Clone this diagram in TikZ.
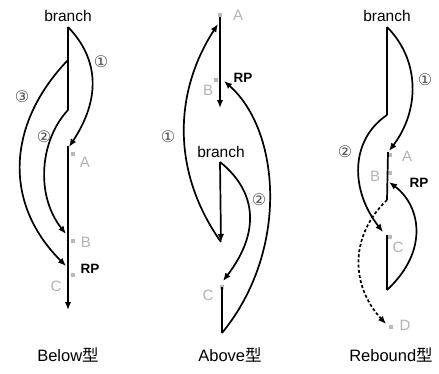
\documentclass[tikz,border=0pt]{standalone}
\usepackage{fontspec}
\setmainfont{Liberation Sans}
\newfontfamily\cjk{Noto Sans CJK JP}
\newfontfamily\symfont{DejaVu Sans}
\usetikzlibrary{arrows.meta}
\begin{document}
\begin{tikzpicture}[x=1pt,y=-1pt,
  flow/.style={line width=1.7pt,black},
  tip/.style={-{Latex[length=8pt,width=6.5pt]}},
  jump/.style={flow,dash pattern=on 3pt off 2.2pt},
  brtext/.style={font=\fontsize{15.5}{18}\selectfont,inner sep=0pt},
  rptext/.style={font=\fontsize{13.5}{15}\selectfont\bfseries,inner sep=0pt},
  ptlabel/.style={font=\fontsize{15}{17}\selectfont,text=gray!60,inner sep=0pt},
  numlabel/.style={font=\fontsize{16}{18}\selectfont\symfont,text=black!70,inner sep=0pt},
  caption/.style={font=\fontsize{16.5}{19}\selectfont,inner sep=0pt},
  mk/.style={rectangle,fill=gray!55,minimum size=4pt,inner sep=0pt}]
\useasboundingbox (0,0) rectangle (439,373);

% ---------------- Below type ----------------
\node[brtext] (b1) at (68,16) {branch};
\coordinate (b1top) at (68,27);
\coordinate (b1kink) at (68,110);
\coordinate (b1mid) at (68,60);
\coordinate (b1A) at (69,147);
\coordinate (b1B) at (66,234);
\coordinate (b1RP) at (66,266);
\coordinate (b1end) at (68,310);
\node[mk] (b1mA) at (73,154) {};
\node[mk] (b1mB) at (73,241) {};
\node[mk] (b1mC) at (73,275) {};
\draw[flow] (b1top) -- (b1kink);
\draw[flow,tip] (b1kink) .. controls (40,140) and (35,195) .. (b1B);
\draw[flow,tip] (b1top) .. controls (100,60) and (100,100) .. (b1A);
\draw[flow,tip] (b1mid) .. controls (10,120) and (0,200) .. (b1RP);
\draw[flow,tip] (68,146) -- (b1end);
\node[numlabel] (b1n1) at (101,62) {①};
\node[numlabel] (b1n3) at (22,97) {③};
\node[numlabel] (b1n2) at (44,137) {②};
\node[ptlabel] (b1lA) at (85,162) {A};
\node[ptlabel] (b1lB) at (86,242) {B};
\node[rptext] (b1lRP) at (90,269) {RP};
\node[ptlabel] (b1lC) at (56,286) {C};
\node[caption] (cap1) at (68,355) {Below{\cjk 型}};

% ---------------- Above type ----------------
\node[ptlabel] (b2lA) at (238,15) {A};
\node[mk] (b2mA) at (220,15) {};
\coordinate (b2Atop) at (220,17);
\coordinate (b2A) at (218,24);
\coordinate (b2Aend) at (220,108);
\node[mk] (b2mB) at (216,80) {};
\coordinate (b2RP) at (224,81);
\node[rptext] (b2lRP) at (243,78) {RP};
\node[ptlabel] (b2lB) at (208,90) {B};
\node[brtext] (b2) at (221,152) {branch};
\coordinate (b2top) at (220,162);
\coordinate (b2bot) at (221,242);
\coordinate (b2C) at (223,281);
\node[mk] (b2mC) at (222,287) {};
\coordinate (b2Ctop) at (222,287);
\coordinate (b2V) at (222,333);
\node[ptlabel] (b2lC) at (208,295) {C};
\draw[flow,tip] (b2Atop) -- (b2Aend);
\draw[flow,tip] (b2top) -- (b2bot);
\draw[flow,tip] (b2bot) .. controls (170,170) and (175,90) .. (b2A);
\draw[flow,tip] (b2top) .. controls (255,190) and (262,230) .. (b2C);
\draw[flow] (b2Ctop) -- (b2V);
\draw[flow,tip] (b2V) .. controls (290,250) and (280,130) .. (b2RP);
\node[numlabel] (b2n1) at (168,137) {①};
\node[numlabel] (b2n2) at (259,200) {②};
\node[caption] (cap2) at (230,355) {Above{\cjk 型}};

% ---------------- Rebound type ----------------
\node[brtext] (b3) at (387,16) {branch};
\coordinate (b3top) at (387,27);
\coordinate (b3kink) at (387,115);
\coordinate (b3A) at (389,151);
\node[mk] (b3mA) at (390,155) {};
\node[mk] (b3mB) at (390,173) {};
\coordinate (b3RP) at (389,182);
\coordinate (b3Abot) at (387,200);
\coordinate (b3C) at (383,232);
\node[mk] (b3mC) at (390,237) {};
\coordinate (b3Ctop) at (387,235);
\coordinate (b3V) at (387,290);
\coordinate (b3D) at (386,324);
\node[mk] (b3mD) at (391,327) {};
\draw[flow] (b3top) -- (b3kink);
\draw[flow,tip] (b3kink) .. controls (350,140) and (350,190) .. (b3C);
\draw[flow,tip] (b3top) .. controls (420,60) and (420,110) .. (b3A);
\draw[flow] (388,152) -- (b3Abot);
\draw[jump,tip] (b3Abot) .. controls (350,235) and (350,285) .. (b3D);
\draw[flow] (b3Ctop) -- (b3V);
\draw[flow,tip] (b3V) .. controls (430,250) and (420,205) .. (b3RP);
\node[numlabel] (b3n1) at (425,80) {①};
\node[numlabel] (b3n2) at (345,152) {②};
\node[ptlabel] (b3lA) at (407,156) {A};
\node[ptlabel] (b3lB) at (375,176) {B};
\node[rptext] (b3lRP) at (419,183) {RP};
\node[ptlabel] (b3lC) at (398,247) {C};
\node[ptlabel] (b3lD) at (405,325) {D};
\node[caption] (cap3) at (391,355) {Rebound{\cjk 型}};
\end{tikzpicture}
\end{document}
